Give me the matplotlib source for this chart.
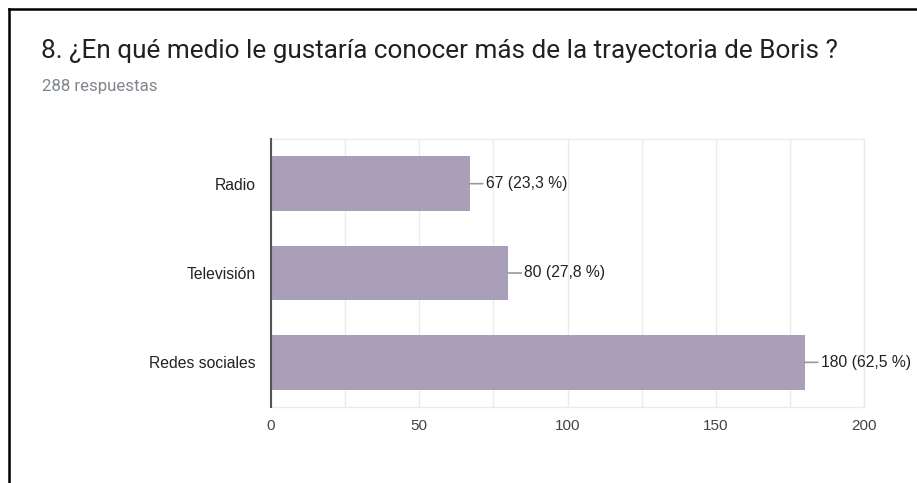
import matplotlib
matplotlib.use("Agg")
import matplotlib.pyplot as plt
from matplotlib.lines import Line2D

plt.rcParams['font.family'] = ['Roboto', 'DejaVu Sans']
chart_font = ['Liberation Sans', 'DejaVu Sans']

categories = ["Radio", "Televisión", "Redes sociales"]
counts = [67, 80, 180]
percents = ["23,3", "27,8", "62,5"]
total_label = "288 respuestas"
title = "8. ¿En qué medio le gustaría conocer más de la trayectoria de Boris ?"
xticks = [0, 50, 100, 150, 200]

bar_color = "#a99fb9"

fig = plt.figure(figsize=(9.17, 4.83), dpi=100)
fig.patch.set_facecolor("white")

# card border (left and top edges)
fig.add_artist(Line2D([9 / 917, 9 / 917], [0, 1 - 9 / 483], color="black", lw=1.8,
                      transform=fig.transFigure))
fig.add_artist(Line2D([9 / 917, 1], [1 - 9 / 483, 1 - 9 / 483], color="black", lw=1.8,
                      transform=fig.transFigure))

fig.text(41 / 917, 1 - 51 / 483, title, fontsize=18.8, color="#202124", va="center", ha="left")
fig.text(42 / 917, 1 - 87 / 483, total_label, fontsize=12.2, color="#80868b", va="center", ha="left")

ax = fig.add_axes([271 / 917, 1 - 407 / 483, 593 / 917, 268 / 483])
y = list(range(len(categories)))
ax.barh(y, counts, height=0.615, color=bar_color, zorder=3)
ax.set_ylim(len(categories) - 0.5, -0.5)
ax.set_xlim(0, 200)

ax.set_xticks(xticks)
ax.set_xticks([25, 75, 125, 175], minor=True)
ax.grid(axis="x", which="both", color="#ebebeb", lw=1, zorder=0)
ax.tick_params(axis="x", which="both", length=0, pad=9, labelsize=11, labelcolor="#444444")
ax.set_yticks(y)
ax.set_yticklabels(categories)
ax.tick_params(axis="y", length=0, pad=11, labelsize=11.3, labelcolor="#222222")
for lbl in ax.get_xticklabels() + ax.get_yticklabels():
    lbl.set_family(chart_font)

for s in ["top", "bottom", "right"]:
    ax.spines[s].set_color("#ebebeb")
    ax.spines[s].set_linewidth(1)
ax.spines["left"].set_color("#555555")
ax.spines["left"].set_linewidth(1.5)
ax.spines["left"].set_zorder(4)

for yi, c, p in zip(y, counts, percents):
    ax.annotate(f"{c} ({p} %)", xy=(c, yi), xytext=(11.5, 0), textcoords="offset points",
                va="center", ha="left", fontsize=11.3, color="#222222", family=chart_font,
                arrowprops=dict(arrowstyle="-", color="#999999", lw=1.2,
                                shrinkA=0, shrinkB=0, relpos=(0, 0.5)),
                annotation_clip=False)

fig.savefig("out.png", dpi=100, facecolor="white")
